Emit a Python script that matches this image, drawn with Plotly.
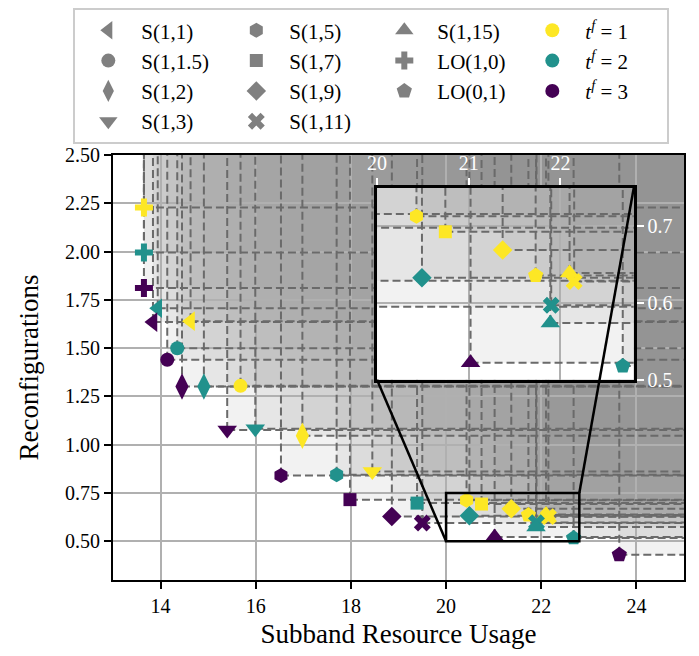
import plotly.graph_objects as go

# ---------------- data ----------------
schemes = ["S(1,1)", "S(1,1.5)", "S(1,2)", "S(1,3)", "S(1,5)", "S(1,7)",
           "S(1,9)", "S(1,11)", "S(1,15)", "LO(1,0)", "LO(0,1)"]
symbols = ["triangle-left", "circle", "diamond-tall", "triangle-down", "hexagon",
           "square", "diamond", "x", "triangle-up", "cross", "pentagon"]

tf_labels = ["<i>t</i><sup><i>f</i></sup> = 1", "<i>t</i><sup><i>f</i></sup> = 2",
             "<i>t</i><sup><i>f</i></sup> = 3"]
tf_colors = ["#fde725", "#21918c", "#440154"]

usage_t1 = [14.63, 15.68, 16.98, 18.45, 20.43, 20.745, 21.37, 22.15, 22.10, 13.65, 21.73]
reconf_t1 = [1.640, 1.305, 1.047, 0.862, 0.713, 0.693, 0.669, 0.628, 0.639, 2.228, 0.636]
usage_t2 = [13.94, 14.35, 14.91, 15.99, 17.70, 19.39, 20.49, 21.90, 21.89, 13.65, 22.68]
reconf_t2 = [1.707, 1.500, 1.302, 1.083, 0.845, 0.698, 0.633, 0.597, 0.574, 1.995, 0.518]
usage_t3 = [13.84, 14.14, 14.45, 15.40, 16.53, 17.98, 18.86, 19.50, 21.02, 13.65, 23.64]
reconf_t3 = [1.635, 1.440, 1.302, 1.077, 0.841, 0.716, 0.629, 0.595, 0.522, 1.811, 0.431]

usage = [usage_t1, usage_t2, usage_t3]
reconf = [reconf_t1, reconf_t2, reconf_t3]

X_RANGE = [13, 25]
Y_RANGE = [0.3, 2.5]
INSET_X = [20, 22.8]
INSET_Y = [0.5, 0.75]

x_ticks = [14, 16, 18, 20, 22, 24]
y_ticks = [0.5, 0.75, 1.0, 1.25, 1.5, 1.75, 2.0, 2.25, 2.5]
inset_x_ticks = [20, 21, 22]
inset_y_ticks = [0.5, 0.6, 0.7]

# ---------------- style / layout ----------------
marker_sizes = [17, 14, 19, 17, 15, 13, 15, 15, 17, 15, 16]
FONT = "Liberation Serif"
W, H = 691, 648            # page body adds an 8px margin
L, R, T, B = 104.7, 14.7, 147, 75.5
INSET_DOM_X = [0.4624, 0.912]
INSET_DOM_Y = [0.4712, 0.9224]
FILL = "rgba(145,145,145,0.12)"
GUIDE = "#6a6a6a"
GRID = "#b0b0b0"

fig = go.Figure()

subplots = [("x", "y"), ("x2", "y2")]

# dominated-region shading (one rectangle per point, up to the axis limits)
shapes = []
for xr, yr in subplots:
    for ux, ry in zip(usage, reconf):
        for xv, yv in zip(ux, ry):
            shapes.append(dict(type="rect", xref=xr, yref=yr, x0=xv, y0=yv,
                               x1=X_RANGE[1], y1=Y_RANGE[1], fillcolor=FILL,
                               line=dict(width=0), layer="below"))

# dashed guide lines + markers
for xr, yr in subplots:
    gx, gy = [], []
    for ux, ry in zip(usage, reconf):
        for xv, yv in zip(ux, ry):
            gx += [xv, xv, None, xv, X_RANGE[1], None]
            gy += [yv, Y_RANGE[1], None, yv, yv, None]
    fig.add_trace(go.Scatter(x=gx, y=gy, mode="lines", xaxis=xr, yaxis=yr,
                             line=dict(color=GUIDE, width=2, dash="8px,4px"),
                             showlegend=False, hoverinfo="skip"))
    for k in range(3):
        fig.add_trace(go.Scatter(x=usage[k], y=reconf[k], mode="markers",
                                 xaxis=xr, yaxis=yr, showlegend=False,
                                 marker=dict(symbol=symbols, color=tf_colors[k],
                                             size=marker_sizes, opacity=1,
                                             line=dict(width=0))))

# legend entries (matplotlib column-major with 4 columns -> plotly row-major)
entries = [(s, sym, "#808080", sz) for s, sym, sz in zip(schemes, symbols, marker_sizes)]
entries += [(lab, "circle", c, 14) for lab, c in zip(tf_labels, tf_colors)]
ncol, nrow = 4, 4
columns = [entries[0:4], entries[4:8], entries[8:11], entries[11:14]]
ordered = []
for r in range(nrow):
    for c in range(ncol):
        if r < len(columns[c]):
            ordered.append(columns[c][r])
for name, sym, col, sz in ordered:
    fig.add_trace(go.Scatter(x=[None], y=[None], mode="markers", name=name,
                             marker=dict(symbol=sym, color=col, size=sz, opacity=1,
                                         line=dict(width=0)),
                             showlegend=True))

# zoom indicator rectangle and connector lines
shapes.append(dict(type="rect", xref="x", yref="y", x0=INSET_X[0], x1=INSET_X[1],
                   y0=INSET_Y[0], y1=INSET_Y[1], line=dict(color="black", width=2.5),
                   fillcolor="rgba(0,0,0,0)", layer="above"))


def to_paper(xv, yv):
    px = (xv - X_RANGE[0]) / (X_RANGE[1] - X_RANGE[0])
    py = (yv - Y_RANGE[0]) / (Y_RANGE[1] - Y_RANGE[0])
    return px, py


p_ll = to_paper(INSET_X[0], INSET_Y[0])
p_ur = to_paper(INSET_X[1], INSET_Y[1])
shapes.append(dict(type="line", xref="paper", yref="paper",
                   x0=INSET_DOM_X[0], y0=INSET_DOM_Y[0], x1=p_ll[0], y1=p_ll[1],
                   line=dict(color="black", width=2.5), layer="above"))
shapes.append(dict(type="line", xref="paper", yref="paper",
                   x0=INSET_DOM_X[1], y0=INSET_DOM_Y[1], x1=p_ur[0], y1=p_ur[1],
                   line=dict(color="black", width=2.5), layer="above"))

axis_common = dict(showline=True, mirror=True, linecolor="black", ticks="outside",
                   ticklen=7, tickwidth=1.5, showgrid=True, gridcolor=GRID,
                   gridwidth=1.5, zeroline=False)

fig.update_layout(
    width=W, height=H,
    margin=dict(l=L, r=R, t=T, b=B, autoexpand=False),
    paper_bgcolor="white", plot_bgcolor="white",
    font=dict(family=FONT, size=20, color="black"),
    shapes=shapes,
    xaxis=dict(range=X_RANGE, domain=[0, 1], tickvals=x_ticks, linewidth=2,
               tickcolor="black", tickfont=dict(size=20),
               title=dict(text="Subband Resource Usage", font=dict(size=27), standoff=8),
               **axis_common),
    yaxis=dict(range=Y_RANGE, domain=[0, 1], tickvals=y_ticks, tickformat=".2f",
               linewidth=2, tickcolor="black", tickfont=dict(size=20),
               title=dict(text="Reconfigurations", font=dict(size=27), standoff=19),
               **axis_common),
    xaxis2=dict(range=INSET_X, domain=INSET_DOM_X, anchor="y2", side="top",
                tickvals=inset_x_ticks, linewidth=2.5, tickcolor="white",
                tickfont=dict(size=20, color="white"), **axis_common),
    yaxis2=dict(range=INSET_Y, domain=INSET_DOM_Y, anchor="x2", side="right",
                tickvals=inset_y_ticks, tickformat=".1f", linewidth=2.5,
                tickcolor="white", tickfont=dict(size=20, color="white"),
                **axis_common),
    legend=dict(x=-0.0695, y=1.3455, xanchor="left", yanchor="top",
                orientation="h", entrywidth=77, entrywidthmode="pixels",
                itemwidth=56, font=dict(size=21, family=FONT),
                bordercolor="#cccccc", borderwidth=2, bgcolor="white",
                traceorder="normal"),
)

fig.write_html("out.html")
